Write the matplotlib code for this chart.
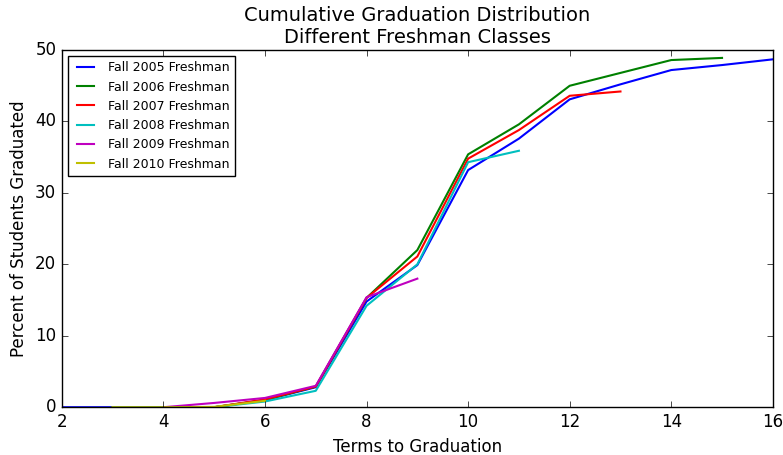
import matplotlib
matplotlib.use('Agg')
import matplotlib.pyplot as plt

# data
terms_2005 = [2, 3, 4, 5, 6, 7, 8, 9, 10, 11, 12, 13, 14, 15, 16]
grad_2005 = [0, 0, 0, 0, 1.0, 2.8, 14.8, 19.9, 33.2, 37.6, 43.1, 45.2, 47.2, 47.9, 48.7]

terms_2006 = [3, 4, 5, 6, 7, 8, 9, 10, 11, 12, 13, 14, 15]
grad_2006 = [0, 0, 0, 1.0, 2.9, 15.3, 22.0, 35.4, 39.6, 45.0, 46.8, 48.6, 48.9]

terms_2007 = [3, 4, 5, 6, 7, 8, 9, 10, 11, 12, 13]
grad_2007 = [0, 0, 0, 1.1, 2.9, 15.3, 21.1, 34.8, 38.8, 43.6, 44.2]

terms_2008 = [3, 4, 5, 6, 7, 8, 9, 10, 11]
grad_2008 = [0, 0, 0, 0.8, 2.3, 14.2, 20.0, 34.3, 35.9]

terms_2009 = [4, 5, 6, 7, 8, 9]
grad_2009 = [0, 0.6, 1.3, 3.0, 15.4, 18.0]

terms_2010 = [3, 4, 5, 6]
grad_2010 = [0, 0, 0.05, 0.9]

labels = ['Fall 2005 Freshman', 'Fall 2006 Freshman', 'Fall 2007 Freshman',
          'Fall 2008 Freshman', 'Fall 2009 Freshman', 'Fall 2010 Freshman']

plt.style.use('classic')
fig = plt.figure(figsize=(7.83, 4.55), dpi=100, facecolor='white')
ax = fig.add_axes([0.079, 0.105, 0.908, 0.785])

ax.plot(terms_2005, grad_2005, 'b', lw=1.5, label=labels[0])
ax.plot(terms_2006, grad_2006, 'g', lw=1.5, label=labels[1])
ax.plot(terms_2007, grad_2007, 'r', lw=1.5, label=labels[2])
ax.plot(terms_2008, grad_2008, 'c', lw=1.5, label=labels[3])
ax.plot(terms_2009, grad_2009, 'm', lw=1.5, label=labels[4])
ax.plot(terms_2010, grad_2010, 'y', lw=1.5, label=labels[5])

ax.set_xlim(2, 16)
ax.set_ylim(0, 50)
ax.set_xticks(range(2, 17, 2))
ax.set_yticks(range(0, 51, 10))
ax.tick_params(labelsize=12)
ax.set_xlabel('Terms to Graduation', fontsize=12)
ax.set_ylabel('Percent of Students Graduated', fontsize=12)
ax.set_title('Cumulative Graduation Distribution\nDifferent Freshman Classes', fontsize=14)
ax.legend(loc='upper left', fontsize=9)

fig.savefig('out.png', dpi=100, facecolor='white')
